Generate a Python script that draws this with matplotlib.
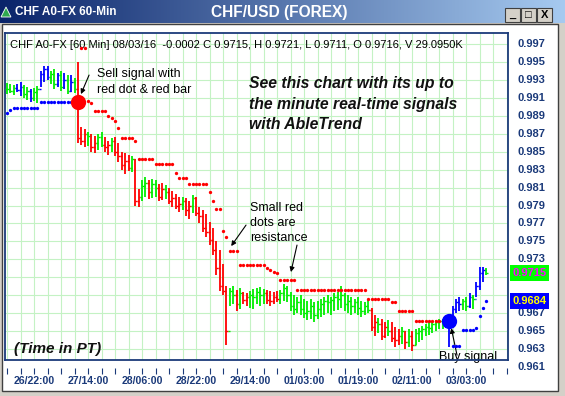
import numpy as np
import matplotlib.pyplot as plt
from matplotlib.patches import Rectangle, Polygon

plt.rcParams['font.family'] = ['Liberation Sans', 'DejaVu Sans']

# ---- data (60-min bars, CHF/USD) ----
HIGH = [0.9927, 0.9925, 0.9924, 0.9926, 0.9928, 0.9924, 0.9922, 0.9920, 0.9921, 0.9923,
        0.9940, 0.9946, 0.9945, 0.9940, 0.9942, 0.9938, 0.9940, 0.9938, 0.9936, 0.9935, 0.9932,
        0.9950, 0.9878, 0.9875, 0.9872, 0.9870, 0.9868, 0.9870, 0.9872, 0.9866, 0.9862, 0.9865,
        0.9866, 0.9860, 0.9850, 0.9848, 0.9846, 0.9845, 0.9842, 0.9808, 0.9818, 0.9822, 0.9818,
        0.9820, 0.9818, 0.9814, 0.9815, 0.9813, 0.9810, 0.9806, 0.9803, 0.9800, 0.9800, 0.9798,
        0.9795, 0.9802, 0.9800, 0.9788, 0.9785, 0.9780, 0.9772, 0.9765, 0.9750, 0.9740, 0.9725,
        0.9700, 0.9698, 0.9700, 0.9696, 0.9698, 0.9694, 0.9692, 0.9695, 0.9697, 0.9698, 0.9699,
        0.9697, 0.9696, 0.9695, 0.9694, 0.9695, 0.9696, 0.9702, 0.9700, 0.9694, 0.9690, 0.9688,
        0.9690, 0.9686, 0.9684, 0.9686, 0.9682, 0.9684, 0.9686, 0.9688, 0.9690, 0.9688, 0.9692,
        0.9694, 0.9700, 0.9692, 0.9690, 0.9688, 0.9686, 0.9688, 0.9684, 0.9682, 0.9686, 0.9676,
        0.9668, 0.9665, 0.9664, 0.9660, 0.9662, 0.9660, 0.9655, 0.9652, 0.9655, 0.9650, 0.9652,
        0.9650, 0.9652, 0.9654, 0.9656, 0.9658, 0.9660, 0.9661, 0.9662, 0.9663, 0.9664, 0.9665,
        0.9666, 0.9678, 0.9686, 0.9688, 0.9686, 0.9688, 0.9692, 0.9690, 0.9705, 0.9722, 0.9722,
        0.9720]
LOW = [0.9914, 0.9915, 0.9913, 0.9916, 0.9912, 0.9910, 0.9908, 0.9905, 0.9906, 0.9904,
       0.9922, 0.9928, 0.9930, 0.9925, 0.9920, 0.9922, 0.9918, 0.9920, 0.9914, 0.9917, 0.9915,
       0.9860, 0.9858, 0.9855, 0.9856, 0.9850, 0.9848, 0.9852, 0.9855, 0.9850, 0.9846, 0.9850,
       0.9845, 0.9838, 0.9830, 0.9825, 0.9828, 0.9827, 0.9790, 0.9788, 0.9795, 0.9800, 0.9797,
       0.9798, 0.9800, 0.9795, 0.9796, 0.9797, 0.9792, 0.9788, 0.9786, 0.9783, 0.9785, 0.9778,
       0.9775, 0.9782, 0.9778, 0.9770, 0.9760, 0.9755, 0.9746, 0.9735, 0.9712, 0.9695, 0.9690,
       0.9634, 0.9678, 0.9680, 0.9672, 0.9675, 0.9680, 0.9678, 0.9676, 0.9675, 0.9680, 0.9678,
       0.9680, 0.9680, 0.9678, 0.9680, 0.9682, 0.9680, 0.9684, 0.9682, 0.9672, 0.9668, 0.9670,
       0.9668, 0.9665, 0.9662, 0.9664, 0.9660, 0.9664, 0.9666, 0.9668, 0.9670, 0.9668, 0.9672,
       0.9674, 0.9676, 0.9672, 0.9670, 0.9668, 0.9670, 0.9668, 0.9666, 0.9668, 0.9670, 0.9650,
       0.9645, 0.9648, 0.9640, 0.9642, 0.9645, 0.9638, 0.9632, 0.9634, 0.9636, 0.9630, 0.9632,
       0.9628, 0.9635, 0.9638, 0.9640, 0.9644, 0.9646, 0.9648, 0.9650, 0.9652, 0.9652, 0.9653,
       0.9632, 0.9658, 0.9670, 0.9672, 0.9674, 0.9672, 0.9676, 0.9675, 0.9688, 0.9696, 0.9705,
       0.9712]
CLOSE = [0.9920, 0.9918, 0.9921, 0.9919, 0.9922, 0.9914, 0.9918, 0.9910, 0.9917, 0.9920,
         0.9937, 0.9942, 0.9933, 0.9937, 0.9925, 0.9935, 0.9922, 0.9930, 0.9918, 0.9928, 0.9920,
         0.9865, 0.9862, 0.9870, 0.9868, 0.9855, 0.9860, 0.9866, 0.9858, 0.9855, 0.9858, 0.9862,
         0.9850, 0.9845, 0.9835, 0.9840, 0.9832, 0.9842, 0.9795, 0.9800, 0.9812, 0.9815, 0.9805,
         0.9814, 0.9810, 0.9800, 0.9808, 0.9805, 0.9795, 0.9798, 0.9790, 0.9792, 0.9795, 0.9785,
         0.9790, 0.9798, 0.9782, 0.9778, 0.9765, 0.9760, 0.9752, 0.9740, 0.9720, 0.9700, 0.9695,
         0.9650, 0.9695, 0.9690, 0.9680, 0.9692, 0.9685, 0.9688, 0.9690, 0.9688, 0.9694, 0.9690,
         0.9692, 0.9685, 0.9684, 0.9688, 0.9686, 0.9692, 0.9698, 0.9690, 0.9678, 0.9675, 0.9682,
         0.9675, 0.9670, 0.9672, 0.9678, 0.9668, 0.9675, 0.9680, 0.9684, 0.9682, 0.9685, 0.9688,
         0.9686, 0.9690, 0.9680, 0.9684, 0.9678, 0.9682, 0.9676, 0.9672, 0.9678, 0.9674, 0.9655,
         0.9660, 0.9658, 0.9645, 0.9655, 0.9650, 0.9642, 0.9640, 0.9645, 0.9650, 0.9638, 0.9645,
         0.9635, 0.9648, 0.9650, 0.9652, 0.9655, 0.9654, 0.9658, 0.9660, 0.9661, 0.9662, 0.9663,
         0.9660, 0.9675, 0.9682, 0.9680, 0.9684, 0.9678, 0.9688, 0.9686, 0.9700, 0.9715, 0.9718,
         0.9715]
# colour of each bar: g = green, r = sell trend (red), b = buy trend (blue)
BAR_COLORS = ("gggbbggbgg" "bbbggbgbgbg" "r"
              "rrgrrggrrgrr"
              "rrrgrrggrggrrgrrrrgrrgrrrrrrr"
              "rrrggrgrrgggggrrrr" "ggggggggggggggggggggggggggg"
              "rrgrrgrrrgrgr" "gggggggggg"
              "bbbbggbgbbbg")
NAN = np.nan
RED_STOP = ([NAN] * 22 + [0.99655, 0.99655, 0.9907, 0.9904]
            + [0.98955] * 4 + [0.98897, 0.98875, 0.98841, 0.98763]
            + [0.98652] * 4 + [0.98618] + [0.98418] * 5 + [0.98362] * 6
            + [0.98262] + [0.98206] * 3 + [0.98145] * 6 + [0.9805, 0.9795, 0.9786, 0.9786]
            + [0.97615, 0.97548] + [0.97392] * 3 + [0.97236] * 8
            + [0.97202, 0.9718, 0.97158, 0.97147] + [0.97069] * 5 + [0.96960] * 21
            + [0.96857] * 7 + [0.96823] * 2 + [0.96723] * 5 + [0.96611] * 10 + [NAN] * 12)
BLUE_STOP = ([0.98931, 0.98964] + [0.98986] * 8 + [0.99053] * 11 + [NAN] * 110
             + [NAN, 0.96333, 0.96333, 0.96333, 0.96511, 0.96511, 0.96511, 0.96511,
                0.9653, 0.96667, 0.96756, 0.96834])
SELL = (21, 0.9905)
BUY = (131, 0.9661)
LAST_PRICE = 0.9715
STOP_PRICE = 0.9684
PRICE_LEVELS = [0.997, 0.995, 0.993, 0.991, 0.989, 0.987, 0.985, 0.983, 0.981, 0.979,
                0.977, 0.975, 0.973, 0.967, 0.965, 0.963, 0.961]
TICK_LABELS = ["26/22:00", "27/14:00", "28/06:00", "28/22:00", "29/14:00",
               "01/03:00", "01/19:00", "02/11:00", "03/03:00"]
TICK_BARS = [8, 24, 40, 56, 72, 88, 104, 120, 136]

W, H = 565, 396
fig = plt.figure(figsize=(W / 100, H / 100), dpi=100, facecolor="#d4d0c8")


def fx(x):
    return x / W


def fy(y):
    return 1 - y / H


# white panel of the chart window
fig.patches.append(Rectangle((fx(2), fy(391)), fx(556), 391 / H - 24 / H,
                             transform=fig.transFigure, facecolor="white",
                             edgecolor="#404040", lw=1.0, zorder=-5))
# title bar gradient
tb = fig.add_axes([0, fy(23), 1, 23 / H])
grad = np.linspace(0, 1, 256)
c0 = np.array([10, 36, 106]) / 255
c1 = np.array([166, 202, 240]) / 255
tb.imshow((c0[None, :] * (1 - grad[:, None]) + c1[None, :] * grad[:, None])[None, :, :],
          aspect="auto", extent=[0, 1, 0, 1])
tb.set_axis_off()
fig.text(fx(15), fy(12), "CHF A0-FX 60-Min", color="white", fontsize=8.5,
         fontweight="bold", va="center")
fig.text(fx(279), fy(12), "CHF/USD (FOREX)", color="white", fontsize=11.2,
         fontweight="bold", va="center", ha="center")
fig.patches.append(Polygon([(fx(1), fy(17)), (fx(6), fy(7)), (fx(11), fy(17))],
                           closed=True, transform=fig.transFigure,
                           facecolor="#2fa84f", edgecolor="white", lw=0.6, zorder=5))
for bx, glyph in zip([505, 521, 537], ["_", "\u25a1", "X"]):
    fig.patches.append(Rectangle((fx(bx), fy(22)), fx(15), 14 / H, transform=fig.transFigure,
                                 facecolor="#d4d0c8", edgecolor="#404040", lw=0.8, zorder=5))
    fig.text(fx(bx + 7.5), fy(15), glyph, fontsize=8, fontweight="bold", ha="center",
             va="center", color="black", zorder=6)

# ---- price chart ----
ax = fig.add_axes([fx(5), fy(360), fx(503), (360 - 33) / H])
ax.set_facecolor("white")
n = len(HIGH)
x = np.arange(n)
ax.set_xlim(-0.6, 148.4)
ax.set_ylim(0.96178, 0.99823)

for v in np.arange(0.963, 0.9985, 0.002):
    ax.axhline(v, color="#c4f2c4", lw=0.8, zorder=0)
for v in range(0, 149, 4):
    ax.axvline(v, color="#c4f2c4", lw=0.8, zorder=0)

cmap = {"g": "#00ee00", "r": "#ff0000", "b": "#0000ff"}
cols = [cmap[c] for c in BAR_COLORS[:n]]
opens = [CLOSE[0]] + CLOSE[:-1]
ax.vlines(x, LOW, HIGH, colors=cols, lw=1.3, zorder=3)
ax.hlines(CLOSE, x, x + 0.5, colors=cols, lw=1.0, zorder=3)
ax.hlines(opens, x - 0.5, x, colors=cols, lw=1.0, zorder=3)

ax.plot(x, RED_STOP, "o", color="#ff0000", ms=2.4, mew=0, zorder=4)
ax.plot(x, BLUE_STOP, "o", color="#0000ff", ms=2.4, mew=0, zorder=4)
ax.plot(*SELL, "o", color="#ff0000", ms=11, mew=0, zorder=5)
ax.plot(*BUY, "o", color="#0000ff", ms=11, mew=0, zorder=5)

for s in ax.spines.values():
    s.set_color("#1b3a7a")
    s.set_linewidth(1.3)
ax.spines["bottom"].set_position(("outward", 6))
ax.spines["bottom"].set_visible(False)
ax.plot([0, 1], [0, 0], transform=ax.transAxes, color="#1b3a7a", lw=1.3, clip_on=False, zorder=6)

ax.set_xticks(range(0, 149, 4))
ax.set_xticklabels([TICK_LABELS[TICK_BARS.index(t)] if t in TICK_BARS else ""
                    for t in range(0, 149, 4)])
ax.tick_params(axis="x", direction="out", length=4, width=0.8, color="#1b3a7a",
               labelsize=7.6, labelcolor="#1b3a7a", pad=1.5)
for lab in ax.get_xticklabels():
    lab.set_fontweight("bold")
ax.set_yticks([])

ytr = ax.get_yaxis_transform()
for p in PRICE_LEVELS:
    ax.text(1.018, p, f"{p:.3f}", transform=ytr, fontsize=8, fontweight="bold",
            color="#1b3a7a", va="center", ha="left", clip_on=False)
for price, fc, tc in [(LAST_PRICE, "#00ff00", "#ff00ff"), (STOP_PRICE, "#0000ff", "#ffff00")]:
    yc = ax.transData.transform((0, price))[1] / 100  # inches from bottom
    fig.patches.append(Rectangle((fx(510), yc / (H / 100) - 8 / H), fx(39), 16 / H,
                                 transform=fig.transFigure, facecolor=fc, edgecolor="none",
                                 zorder=4))
    fig.text(fx(529.5), yc / (H / 100), f"{price:.4f}", color=tc, fontsize=8,
             fontweight="bold", ha="center", va="center", zorder=5)

# ---- annotations ----
ax.text(0.01, 0.963, "CHF A0-FX [60 Min] 08/03/16  -0.0002 C 0.9715, H 0.9721, "
        "L 0.9711, O 0.9716, V 29.0950K", transform=ax.transAxes, fontsize=8,
        va="center", ha="left", zorder=3)
arrow = dict(arrowstyle="-|>", color="black", lw=0.8, mutation_scale=7, shrinkA=0, shrinkB=0)
ax.text(26.7, 0.99276, "Sell signal with\nred dot & red bar", fontsize=9, va="center",
        ha="left", linespacing=1.45)
ax.annotate("", xy=(21.9, 0.99142), xytext=(24.3, 0.99354), arrowprops=arrow)
ax.text(71.7, 0.99031, "See this chart with its up to\nthe minute real-time signals\n"
        "with AbleTrend", fontsize=11.3, fontweight="bold", style="italic",
        va="center", ha="left", color="#111111", linespacing=1.47)
ax.text(72, 0.97704, "Small red\ndots are\nresistance", fontsize=9, va="center",
        ha="left", linespacing=1.33)
ax.annotate("", xy=(66.4, 0.97448), xytext=(70.8, 0.97682), arrowprops=arrow)
ax.annotate("", xy=(84.1, 0.97158), xytext=(85.9, 0.97459), arrowprops=arrow)
ax.text(128, 0.9621, "Buy signal", fontsize=9, va="center", ha="left")
ax.annotate("", xy=(131.6, 0.96533), xytext=(133.3, 0.96232), arrowprops=arrow)
ax.text(2.1, 0.9630, "(Time in PT)", fontsize=11, fontweight="bold", style="italic",
        va="center", ha="left", color="#111111")

fig.savefig("out.png", dpi=100, facecolor=fig.get_facecolor())
